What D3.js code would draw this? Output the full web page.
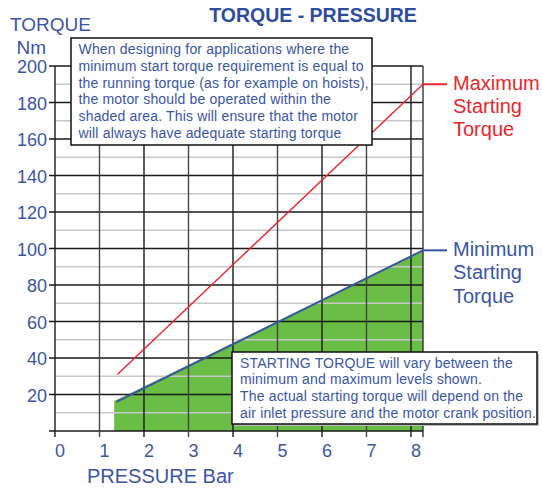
<!DOCTYPE html>
<html>
<head>
<meta charset="utf-8">
<script src="https://cdn.jsdelivr.net/npm/d3@7"></script>
<style>
  body { margin: 0; background: #fff; }
  text { font-family: "Liberation Sans", Arial, sans-serif; }
</style>
</head>
<body>
<div id="chart"></div>
<script>
// axis ticks
const pressureTicks = [0, 1, 2, 3, 4, 5, 6, 7, 8];
const torqueTicks = [20, 40, 60, 80, 100, 120, 140, 160, 180, 200];
const torqueMinor = [10, 30, 50, 70, 90, 110, 130, 150, 170, 190];

// min / max starting torque lines
const minPressure = [1.38, 8.27];
const minTorque = [16, 99];
const maxPressure = [1.4, 8.27];
const maxTorque = [31, 190];

// shaded area (under minimum line)
const areaPressure = [1.33, 8.27];
const areaTorque = [16.5, 99];

const noteTop = [
  "When designing for applications where the",
  "minimum start torque requirement is equal to",
  "the running torque (as for example on hoists),",
  "the motor should be operated within the",
  "shaded area. This will ensure that the motor",
  "will always have adequate starting torque"
];
const noteBottom = [
  "STARTING TORQUE will vary between the",
  "minimum and maximum levels shown.",
  "The actual starting torque will depend on the",
  "air inlet pressure and the motor crank position."
];
const maxLabel = ["Maximum", "Starting", "Torque"];
const minLabel = ["Minimum", "Starting", "Torque"];

const blue = "#3a55a6";
const red = "#e8262c";

const width = 542, height = 488;
const svg = d3.select("#chart").append("svg")
  .attr("width", width)
  .attr("height", height);

const x = d3.scaleLinear().domain([0, 8.27]).range([55, 423]);
const y = d3.scaleLinear().domain([0, 200]).range([431, 66]);

// green shaded area
const areaData = areaPressure.map((p, i) => ({ p: p, t: areaTorque[i] }));
svg.append("path")
  .datum(areaData)
  .attr("fill", "#6abd45")
  .attr("d", d3.area().x(d => x(d.p)).y0(y(0)).y1(d => y(d.t)));

// minor grid lines
svg.append("g").selectAll("line")
  .data(torqueMinor)
  .enter().append("line")
  .attr("x1", x(0)).attr("x2", x(8.27))
  .attr("y1", d => y(d)).attr("y2", d => y(d))
  .attr("stroke", "#c8c8c8")
  .attr("stroke-width", 1.5);

// major horizontal lines (with tick to the left)
svg.append("g").selectAll("line")
  .data([0].concat(torqueTicks))
  .enter().append("line")
  .attr("x1", x(0) - 6).attr("x2", x(8.27))
  .attr("y1", d => y(d)).attr("y2", d => y(d))
  .attr("stroke", "#1a1a1a")
  .attr("stroke-width", 1.4);

// vertical lines (with tick below)
svg.append("g").selectAll("line")
  .data(pressureTicks)
  .enter().append("line")
  .attr("x1", d => x(d)).attr("x2", d => x(d))
  .attr("y1", y(200)).attr("y2", y(0) + 6)
  .attr("stroke", (d, i) => i % 2 ? "#444" : "#1a1a1a")
  .attr("stroke-width", 1.4);

// right border
svg.append("line")
  .attr("x1", x(8.27)).attr("x2", x(8.27))
  .attr("y1", y(200)).attr("y2", y(0) + 6)
  .attr("stroke", "#333")
  .attr("stroke-width", 1.4);

// max line
const maxData = maxPressure.map((p, i) => ({ p: p, t: maxTorque[i] }));
svg.append("path")
  .datum(maxData)
  .attr("fill", "none")
  .attr("stroke", red)
  .attr("stroke-width", 1.4)
  .attr("d", d3.line().x(d => x(d.p)).y(d => y(d.t)));

// min line
const minData = minPressure.map((p, i) => ({ p: p, t: minTorque[i] }));
svg.append("path")
  .datum(minData)
  .attr("fill", "none")
  .attr("stroke", blue)
  .attr("stroke-width", 2)
  .attr("d", d3.line().x(d => x(d.p)).y(d => y(d.t)));

// leader lines to the labels
svg.append("line")
  .attr("x1", x(8.27)).attr("x2", 447)
  .attr("y1", y(maxTorque[1])).attr("y2", y(maxTorque[1]))
  .attr("stroke", red).attr("stroke-width", 2);
svg.append("line")
  .attr("x1", x(8.27)).attr("x2", 447)
  .attr("y1", y(minTorque[1])).attr("y2", y(minTorque[1]))
  .attr("stroke", blue).attr("stroke-width", 2);

svg.append("text")
  .attr("x", 453).attr("y", 89.5)
  .attr("fill", red).attr("font-size", 20)
  .selectAll("tspan").data(maxLabel).enter().append("tspan")
  .attr("x", 453).attr("dy", (d, i) => i ? 23.3 : 0)
  .text(d => d);

svg.append("text")
  .attr("x", 453).attr("y", 256)
  .attr("fill", blue).attr("font-size", 20)
  .selectAll("tspan").data(minLabel).enter().append("tspan")
  .attr("x", 453).attr("dy", (d, i) => i ? 23.3 : 0)
  .text(d => d);

// tick labels
svg.append("g").selectAll("text")
  .data(torqueTicks)
  .enter().append("text")
  .attr("x", 47).attr("y", d => y(d) + 7)
  .attr("text-anchor", "end")
  .attr("fill", blue).attr("font-size", 18)
  .text(d => d);

svg.append("g").selectAll("text")
  .data(pressureTicks)
  .enter().append("text")
  .attr("x", d => x(d) + 5).attr("y", 457)
  .attr("text-anchor", "middle")
  .attr("fill", blue).attr("font-size", 18)
  .text(d => d);

// axis titles
svg.append("text").attr("x", 10).attr("y", 30.5)
  .attr("fill", blue).attr("font-size", 19).text("TORQUE");
svg.append("text").attr("x", 16.5).attr("y", 54)
  .attr("fill", blue).attr("font-size", 19).text("Nm");
svg.append("text").attr("x", 87).attr("y", 482.5)
  .attr("fill", blue).attr("font-size", 20).text("PRESSURE Bar");

svg.append("text").attr("x", 313).attr("y", 21.5)
  .attr("text-anchor", "middle")
  .attr("fill", "#2e4c9d").attr("font-size", 19.5)
  .attr("font-weight", "bold")
  .text("TORQUE - PRESSURE");

// note boxes
function noteBox(x0, y0, w, h, lines, tx, ty, shadow) {
  if (shadow) {
    svg.append("rect")
      .attr("x", x0 + 2).attr("y", y0 + 2).attr("width", w).attr("height", h)
      .attr("fill", "#bbb");
  }
  svg.append("rect")
    .attr("x", x0).attr("y", y0).attr("width", w).attr("height", h)
    .attr("fill", "#fff").attr("stroke", "#111").attr("stroke-width", 1.5);
  svg.append("text")
    .attr("fill", blue).attr("font-size", 14)
    .attr("letter-spacing", 0.17)
    .selectAll("tspan").data(lines).enter().append("tspan")
    .attr("x", tx).attr("y", (d, i) => ty + i * 16.75)
    .text(d => d);
}
noteBox(71, 38, 301, 107, noteTop, 78.5, 54, false);
noteBox(232, 352, 305, 72, noteBottom, 240, 367.5, true);
</script>
</body>
</html>
